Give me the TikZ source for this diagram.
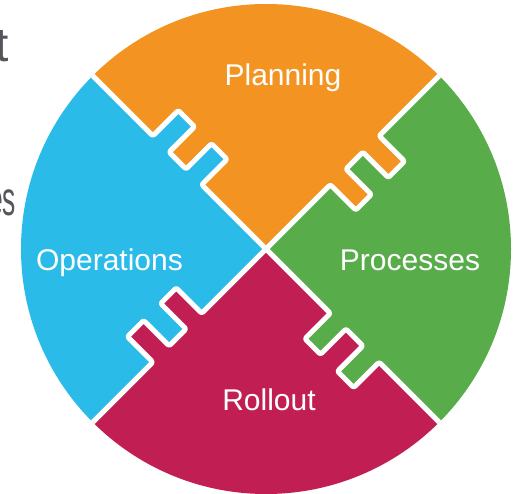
\documentclass[tikz,border=0pt]{standalone}
\usepackage{fontspec}
\setmainfont{Liberation Sans}
\definecolor{cOr}{HTML}{F39422}
\definecolor{cBl}{HTML}{2ABBE9}
\definecolor{cRd}{HTML}{C11F53}
\definecolor{cGr}{HTML}{58AC4A}
\definecolor{cGy}{HTML}{55555A}
\tikzset{
  lbl/.style={anchor=base, text=white, inner sep=0pt, font=\fontsize{30}{36}\selectfont},
  frag/.style={anchor=base east, text=cGy, inner sep=0pt, font=\fontsize{48}{56}\selectfont},
  seam/.style={white, line width=5pt, line join=round, line cap=round, rounded corners=2pt}
}
\begin{document}
\begin{tikzpicture}[x=1pt,y=1pt]
\useasboundingbox (-266,-244) rectangle (250,249);
\begin{scope}
  \clip (-266,-244) rectangle (250,249);
  \node[frag] (fragT) at (-257,187) {t};
  \node[frag, xscale=0.55] (fragES) at (-250,34) {es};
\end{scope}
\begin{scope}
  \clip (0,0) circle (245);
  \fill[cOr] (0,0) -- (45:400) -- (135:400) -- cycle;
  \fill[cBl] (0,0) -- (135:400) -- (225:400) -- cycle;
  \fill[cRd] (0,0) -- (225:400) -- (315:400) -- cycle;
  \fill[cGr] (0,0) -- (315:400) -- (45:400) -- cycle;
  \foreach \a/\c in {45/cOr,135/cBl,225/cRd,315/cGr}{
    \fill[\c,rotate=\a] (91,1) rectangle (113,-36) (137,1) rectangle (160,-36);
  }
  \foreach \a in {45,135,225,315}{
    \draw[seam,rotate=\a] (0,0) -- (91,0) -- (91,-36) -- (113,-36) -- (113,0) -- (137,0) -- (137,-36) -- (160,-36) -- (160,0) -- (260,0);
  }
\end{scope}
\node[lbl] (planning) at (17,164) {Planning};
\node[lbl] (operations) at (-156.5,-21) {Operations};
\node[lbl] (processes) at (144,-21) {Processes};
\node[lbl] (rollout) at (3,-161) {Rollout};
\end{tikzpicture}
\end{document}
